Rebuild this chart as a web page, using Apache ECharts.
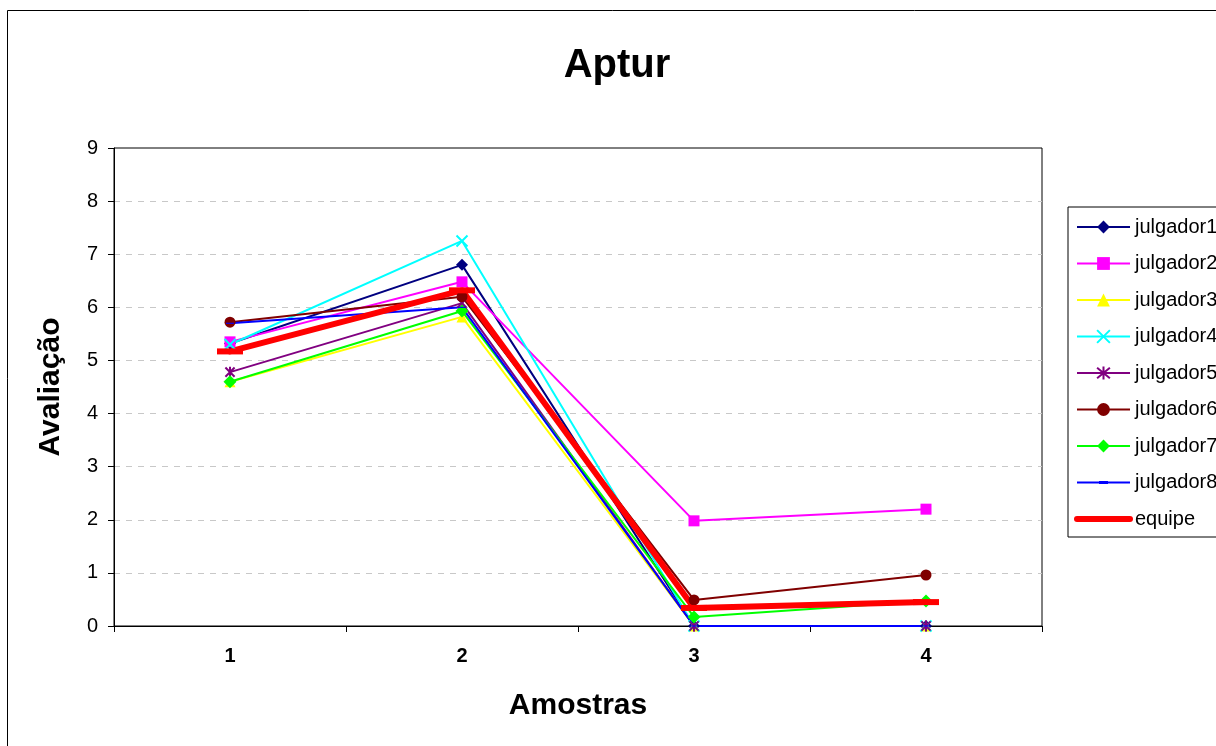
<!DOCTYPE html>
<html>
<head>
<meta charset="utf-8">
<title>Aptur</title>
<script src="https://cdn.jsdelivr.net/npm/echarts@6/dist/echarts.min.js"></script>
<style>
  html, body { margin: 0; padding: 0; background: #fff; }
  #chart { width: 1216px; height: 746px; }
</style>
</head>
<body>
<div id="chart"></div>
<script>
// Samples (x axis) and y-axis range
const amostras = ['1', '2', '3', '4'];
const yTicks = [0, 1, 2, 3, 4, 5, 6, 7, 8, 9];

// Scores given by each judge, one value per sample
const julgador1 = [5.32, 6.80, 0, 0];
const julgador2 = [5.35, 6.48, 1.98, 2.20];
const julgador3 = [4.60, 5.82, 0, 0];
const julgador4 = [5.30, 7.25, 0, 0];
const julgador5 = [4.78, 6.08, 0, 0];
const julgador6 = [5.72, 6.20, 0.49, 0.96];
const julgador7 = [4.60, 5.93, 0.17, 0.47];
const julgador8 = [5.70, 6.00, 0, 0];
// Panel score
const equipe = [5.17, 6.32, 0.34, 0.45];

const FONT = "'Liberation Sans', Arial, sans-serif";

// Stroked marker shapes
const CROSS = 'path://M0,0L10,10M10,0L0,10';
const STAR = 'path://M0,0L10,10M10,0L0,10M5,-1L5,11';
const DASH = 'path://M0,0L8,0L8,3L0,3Z';
// Legend icon for the dash marker: line plus small dash in the middle
const DASH_ICON = 'path://M0,0.5H53V2.5H0Z M22,0H31V3H22Z';

const judges = [
  { name: 'julgador1', data: julgador1, color: '#000080', symbol: 'diamond', size: 12 },
  { name: 'julgador2', data: julgador2, color: '#FF00FF', symbol: 'rect', size: 11 },
  { name: 'julgador3', data: julgador3, color: '#FFFF00', symbol: 'triangle', size: 11 },
  { name: 'julgador4', data: julgador4, color: '#00FFFF', symbol: CROSS, size: 11, stroke: true },
  { name: 'julgador5', data: julgador5, color: '#800080', symbol: STAR, size: 11, stroke: true },
  { name: 'julgador6', data: julgador6, color: '#800000', symbol: 'circle', size: 11 },
  { name: 'julgador7', data: julgador7, color: '#00FF00', symbol: 'diamond', size: 13 },
  { name: 'julgador8', data: julgador8, color: '#0000FF', symbol: DASH, size: [8, 3], icon: DASH_ICON }
];

const series = judges.map(j => ({
  name: j.name,
  type: 'line',
  data: j.data,
  symbol: j.symbol,
  symbolSize: j.size,
  symbolKeepAspect: true,
  showAllSymbol: true,
  animation: false,
  itemStyle: {
    color: j.color,
    borderColor: j.color,
    borderWidth: j.stroke ? 2 : 0
  },
  lineStyle: { color: j.color, width: 2 }
}));

series.push({
  name: 'equipe',
  type: 'line',
  data: equipe,
  symbol: 'rect',
  symbolSize: [26, 6],
  animation: false,
  itemStyle: { color: '#FF0000', borderWidth: 0 },
  lineStyle: { color: '#FF0000', width: 6, cap: 'round', join: 'round' }
});

const legendData = judges.map(j => (j.icon ? { name: j.name, icon: j.icon } : { name: j.name }));
legendData.push({
  name: 'equipe',
  itemStyle: { opacity: 0 },
  lineStyle: { width: 6, cap: 'round', color: '#FF0000' }
});

const chart = echarts.init(document.getElementById('chart'), null, { renderer: 'canvas' });

chart.setOption({
  backgroundColor: '#ffffff',
  animation: false,
  textStyle: { fontFamily: FONT },
  title: {
    text: 'Aptur',
    left: 612,
    top: 41,
    textAlign: 'center',
    textStyle: { fontFamily: FONT, fontSize: 40, fontWeight: 'bold', color: '#000' }
  },
  graphic: [{
    type: 'rect',
    shape: { x: 7.5, y: 10.5, width: 1400, height: 900 },
    style: { fill: 'none', stroke: '#000', lineWidth: 1 },
    silent: true,
    z: -1
  }],
  legend: {
    orient: 'vertical',
    left: 1068,
    top: 207,
    width: 200,
    data: legendData,
    itemWidth: 53,
    itemHeight: 16,
    itemGap: 16.5,
    itemTextGap: 3,
    symbolKeepAspect: true,
    padding: [10, 40, 8, 6],
    borderColor: '#000',
    borderWidth: 1,
    backgroundColor: '#fff',
    selectedMode: false,
    textStyle: { fontFamily: FONT, fontSize: 20, color: '#000', lineHeight: 20 }
  },
  grid: {
    left: 114,
    top: 148,
    right: 174,
    bottom: 120,
    show: true,
    borderColor: '#000',
    borderWidth: 1,
    backgroundColor: 'transparent',
    containLabel: false
  },
  xAxis: {
    type: 'category',
    data: amostras,
    boundaryGap: true,
    name: 'Amostras',
    nameLocation: 'middle',
    nameGap: 65,
    nameTextStyle: { fontFamily: FONT, fontSize: 30, fontWeight: 'bold', color: '#000' },
    axisLine: { show: true, lineStyle: { color: '#000', width: 1 } },
    axisTick: { show: true, alignWithLabel: false, length: 6, lineStyle: { color: '#000' } },
    axisLabel: { margin: 20, fontFamily: FONT, fontSize: 20, fontWeight: 'bold', color: '#000' },
    splitLine: { show: false }
  },
  yAxis: {
    type: 'value',
    min: yTicks[0],
    max: yTicks[yTicks.length - 1],
    interval: 1,
    name: 'Avaliação',
    nameLocation: 'middle',
    nameGap: 48,
    nameRotate: 90,
    nameTextStyle: { fontFamily: FONT, fontSize: 30, fontWeight: 'bold', color: '#000' },
    axisLine: { show: true, lineStyle: { color: '#000', width: 1 } },
    axisTick: { show: true, length: 6, lineStyle: { color: '#000' } },
    axisLabel: { margin: 16, fontFamily: FONT, fontSize: 20, color: '#000' },
    splitLine: {
      show: true,
      showMinLine: false,
      showMaxLine: false,
      lineStyle: { color: '#C8C8C8', type: [6, 6], width: 1 }
    }
  },
  series: series
});
</script>
</body>
</html>
